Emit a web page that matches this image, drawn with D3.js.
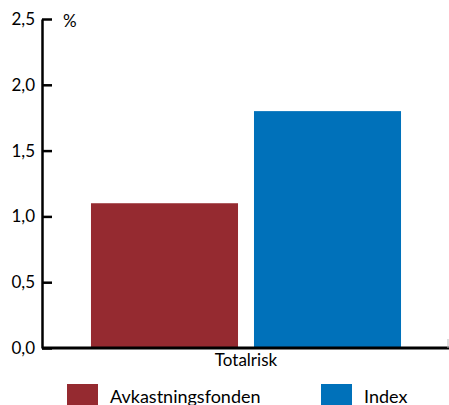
<!DOCTYPE html>
<html>
<head>
<meta charset="utf-8">
<script src="https://cdn.jsdelivr.net/npm/d3@7"></script>
<style>
  html, body { margin: 0; padding: 0; background: #fff; }
  svg { display: block; font-family: Lato, "Open Sans", sans-serif; }
</style>
</head>
<body>
<svg id="chart" width="449" height="405"></svg>
<script>
// Chart data
const categories = ["Totalrisk"];
const seriesNames = ["Avkastningsfonden", "Index"];
const seriesValues = [[1.1], [1.8]];      // one value per category for each series
const seriesColors = ["#952a30", "#0071ba"];
const yTicks = [0, 0.5, 1.0, 1.5, 2.0, 2.5];
const unitLabel = "%";

(function () {
const svg = d3.select("#chart");
const plotLeft = 42, plotRight = 450, plotTop = 19, plotBottom = 348;

const y = d3.scaleLinear().domain([0, 2.5]).range([plotBottom, plotTop]);

const x0 = d3.scaleBand().domain(categories).range([plotLeft, plotRight])
  .paddingInner(0).paddingOuter(0.158);
const x1 = d3.scaleBand().domain(seriesNames).range([0, x0.bandwidth()])
  .paddingInner(0.098).paddingOuter(0);

const fmt = v => d3.format(".1f")(v).replace(".", ",");

// Bars
const rows = categories.map((c, i) => ({
  cat: c,
  vals: seriesNames.map((s, j) => ({ s, v: seriesValues[j][i], color: seriesColors[j] }))
}));
const g = svg.append("g");
g.selectAll("g.cat").data(rows).join("g")
  .attr("class", "cat")
  .attr("transform", d => `translate(${x0(d.cat)},0)`)
  .selectAll("rect").data(d => d.vals).join("rect")
  .attr("x", d => x1(d.s))
  .attr("width", x1.bandwidth())
  .attr("y", d => y(d.v))
  .attr("height", d => y(0) - y(d.v))
  .attr("fill", d => d.color);

// Y axis (ticks point inward)
const yAxis = d3.axisLeft(y).tickValues(yTicks).tickFormat(fmt)
  .tickSizeInner(-10).tickSizeOuter(0).tickPadding(7);
const ya = svg.append("g").attr("transform", `translate(${plotLeft},0)`).call(yAxis);
ya.select(".domain").attr("stroke", "#000").attr("stroke-width", 2.5);
ya.selectAll(".tick line").attr("stroke", "#000").attr("stroke-width", 2.5);
ya.selectAll(".tick text").attr("fill", "#000").style("font-size", "17px")
  .style("font-family", "Lato, sans-serif");

// X axis
const xAxis = d3.axisBottom(x0).tickSize(0).tickPadding(6);
const xa = svg.append("g").attr("transform", `translate(0,${plotBottom})`).call(xAxis);
xa.select(".domain").attr("stroke", "#000").attr("stroke-width", 3)
  .attr("d", `M${plotLeft},0H${plotRight - 1}`);
xa.selectAll(".tick text").attr("fill", "#000").style("font-size", "17px")
  .style("font-family", "Lato, sans-serif");
// faint end tick at the right end of the category axis
xa.append("line").attr("x1", plotRight - 2).attr("x2", plotRight - 2)
  .attr("y1", -9).attr("y2", 0).attr("stroke", "#bbb").attr("stroke-width", 1);

// Unit label
svg.append("text").attr("x", 63).attr("y", 27)
  .style("font-size", "17px").attr("fill", "#000").text(unitLabel);

// Legend
const legendX = [67, 321];
const lg = svg.append("g").selectAll("g").data(seriesNames).join("g")
  .attr("transform", (d, i) => `translate(${legendX[i]},384)`);
lg.append("rect").attr("width", 31).attr("height", 24)
  .attr("fill", (d, i) => seriesColors[i]);
lg.append("text").attr("x", 43).attr("y", 19)
  .style("font-size", "18px").attr("fill", "#000").text(d => d);
})();
</script>
</body>
</html>
